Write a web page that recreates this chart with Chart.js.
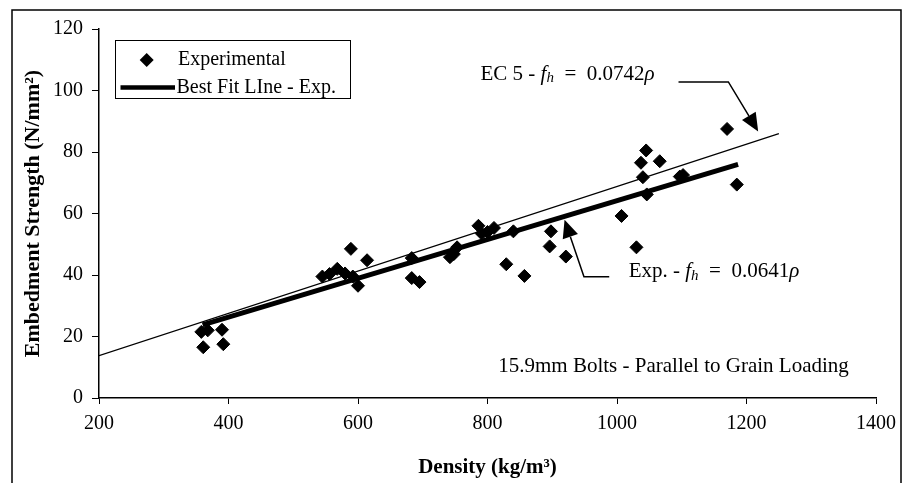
<!DOCTYPE html>
<html><head><meta charset="utf-8">
<script src="https://cdn.jsdelivr.net/npm/chart.js@4.4.0/dist/chart.umd.min.js"></script>
<style>html,body{margin:0;padding:0;background:#fff}#wrap{width:904px;height:483px;position:relative}</style>
</head><body><div id="wrap"><canvas id="c" width="904" height="483"></canvas></div>
<script>
// ---- data ----
const density  = [358, 361, 368, 390, 392, 545, 556, 568, 580, 589, 592, 600, 614, 683, 683, 695, 742, 748, 753, 786, 791, 800, 810, 829, 840, 857, 896, 898, 921, 1007, 1030, 1037, 1040, 1045, 1046, 1066, 1097, 1102, 1170, 1185];
const strength = [21.5, 16.5, 22, 22.2, 17.5, 39.5, 40.3, 42, 40.5, 48.5, 39.5, 36.5, 44.8, 45.5, 39, 37.7, 45.8, 46.8, 49, 56, 53.5, 54, 55.3, 43.5, 54.2, 39.7, 49.3, 54.2, 46, 59.2, 49, 76.5, 71.8, 80.5, 66.2, 77, 72, 72.5, 87.5, 69.4];
const fitDensity  = [360, 1187];
const fitStrength = [23.8, 76];
const ec5Density  = [200, 1250];
const ec5Strength = [13.8, 86];
const xTickValues = [200, 400, 600, 800, 1000, 1200, 1400];
const yTickValues = [0, 20, 40, 60, 80, 100, 120];
const seriesNames = ['Experimental', 'Best Fit LIne - Exp.', 'EC 5'];
const xTitle = 'Density (kg/m³)';
const yTitle = 'Embedment Strength (N/mm²)';
// annotation anchors in data units
const ecArrow  = {x: [1095, 1172, 1218], y: [102.8, 102.8, 86.7]};
const expArrow = {x: [988, 949, 919], y: [39.4, 39.4, 58]};
const ecLabel  = {x: 1058, y: 105.2};
const expLabel = {x: 1018, y: 41.1};
const boltLabel = {x: 1358, y: 10.1, text: '15.9mm Bolts - Parallel to Grain Loading'};

const SERIF = '"Liberation Serif", "DejaVu Serif", serif';

function pts(xs, ys) { return xs.map((x, i) => ({x: x, y: ys[i]})); }

function richText(ctx, x, y, segs, align) {
  const base = 21;
  let total = 0;
  const widths = segs.map(s => {
    ctx.font = (s.it ? 'italic ' : '') + (s.sub ? 15 : base) + 'px ' + SERIF;
    const w = ctx.measureText(s.t).width;
    total += w;
    return w;
  });
  let cx = align === 'right' ? x - total : x;
  ctx.textBaseline = 'middle';
  ctx.textAlign = 'left';
  segs.forEach((s, i) => {
    ctx.font = (s.it ? 'italic ' : '') + (s.sub ? 15 : base) + 'px ' + SERIF;
    ctx.fillText(s.t, cx, y + (s.sub ? 4 : 0));
    cx += widths[i];
  });
}

function drawArrow(ctx, px, py) {
  const n = px.length;
  const tx = px[n - 1], ty = py[n - 1];
  const dx = tx - px[n - 2], dy = ty - py[n - 2];
  const len = Math.hypot(dx, dy);
  const ux = dx / len, uy = dy / len;
  const hl = 18, hw = 8;
  const bx = tx - ux * hl, by = ty - uy * hl;
  ctx.beginPath();
  ctx.moveTo(px[0], py[0]);
  for (let i = 1; i < n - 1; i++) ctx.lineTo(px[i], py[i]);
  ctx.lineTo(bx, by);
  ctx.lineWidth = 1.5;
  ctx.strokeStyle = '#000';
  ctx.stroke();
  ctx.beginPath();
  ctx.moveTo(tx, ty);
  ctx.lineTo(bx - uy * hw, by + ux * hw);
  ctx.lineTo(bx + uy * hw, by - ux * hw);
  ctx.closePath();
  ctx.fillStyle = '#000';
  ctx.fill();
}

const decor = {
  id: 'decor',
  afterDraw(chart) {
    const ctx = chart.ctx;
    const xs = chart.scales.x, ys = chart.scales.y;
    ctx.save();
    // outer frame
    ctx.strokeStyle = '#000';
    ctx.lineWidth = 1.5;
    ctx.strokeRect(12, 10, 889, 520);
    // legend
    ctx.lineWidth = 1;
    ctx.strokeRect(115.5, 40.5, 235, 58);
    ctx.fillStyle = '#000';
    ctx.beginPath();
    ctx.moveTo(146.7 - 7, 60); ctx.lineTo(146.7, 53); ctx.lineTo(146.7 + 7, 60); ctx.lineTo(146.7, 67);
    ctx.closePath(); ctx.fill();
    ctx.beginPath(); ctx.moveTo(120.5, 87.5); ctx.lineTo(175, 87.5); ctx.lineWidth = 4.5; ctx.stroke();
    ctx.font = '20px ' + SERIF; ctx.textBaseline = 'middle'; ctx.textAlign = 'left';
    ctx.fillText(seriesNames[0], 178, 60);
    ctx.fillText(seriesNames[1], 176.5, 87.5);
    // annotations
    richText(ctx, xs.getPixelForValue(ecLabel.x), ys.getPixelForValue(ecLabel.y),
      [{t: 'EC 5 - '}, {t: 'f', it: 1}, {t: 'h', it: 1, sub: 1}, {t: '  =  0.0742'}, {t: 'ρ', it: 1}], 'right');
    richText(ctx, xs.getPixelForValue(expLabel.x), ys.getPixelForValue(expLabel.y),
      [{t: 'Exp. - '}, {t: 'f', it: 1}, {t: 'h', it: 1, sub: 1}, {t: '  =  0.0641'}, {t: 'ρ', it: 1}], 'left');
    ctx.font = '21px ' + SERIF; ctx.textAlign = 'right'; ctx.textBaseline = 'middle'; ctx.fillStyle = '#000';
    ctx.fillText(boltLabel.text, xs.getPixelForValue(boltLabel.x), ys.getPixelForValue(boltLabel.y));
    drawArrow(ctx, ecArrow.x.map(v => xs.getPixelForValue(v)), ecArrow.y.map(v => ys.getPixelForValue(v)));
    drawArrow(ctx, expArrow.x.map(v => xs.getPixelForValue(v)), expArrow.y.map(v => ys.getPixelForValue(v)));
    ctx.restore();
  }
};

new Chart(document.getElementById('c'), {
  type: 'scatter',
  data: {
    datasets: [
      {label: seriesNames[0], data: pts(density, strength), pointStyle: 'rectRot', pointRadius: 6.5,
       pointHoverRadius: 6.5, backgroundColor: '#000', borderColor: '#000', borderWidth: 1, order: 2},
      {label: seriesNames[1], type: 'line', data: pts(fitDensity, fitStrength), showLine: true, borderColor: '#000',
       borderWidth: 5, pointRadius: 0, fill: false, order: 1},
      {label: seriesNames[2], type: 'line', data: pts(ec5Density, ec5Strength), showLine: true, borderColor: '#000',
       borderWidth: 1.3, pointRadius: 0, fill: false, order: 1}
    ]
  },
  options: {
    responsive: false,
    animation: false,
    devicePixelRatio: 1,
    layout: {padding: {left: 0, right: 24, top: 29, bottom: 0}, autoPadding: false},
    plugins: {legend: {display: false}, tooltip: {enabled: false}},
    scales: {
      x: {
        type: 'linear', min: 200, max: 1400,
        afterBuildTicks: s => { s.ticks = xTickValues.map(v => ({value: v})); },
        afterFit: s => { s.height = 85; },
        grid: {drawOnChartArea: false, drawTicks: true, tickLength: 6, color: '#000', lineWidth: 1},
        border: {display: true, color: '#000', width: 1.5},
        ticks: {color: '#000', font: {family: SERIF, size: 20}, padding: 8, maxRotation: 0,
                callback: v => String(v)},
        title: {display: true, text: xTitle, color: '#000', font: {family: SERIF, size: 21, weight: 'bold'},
                padding: {top: 0, bottom: 3}}
      },
      y: {
        type: 'linear', min: 0, max: 120,
        afterBuildTicks: s => { s.ticks = yTickValues.map(v => ({value: v})); },
        afterFit: s => { s.width = 99; },
        grid: {drawOnChartArea: false, drawTicks: true, tickLength: 7, color: '#000', lineWidth: 1},
        border: {display: true, color: '#000', width: 1.5},
        ticks: {color: '#000', font: {family: SERIF, size: 20}, padding: 9, callback: v => String(v)},
        title: {display: true, text: yTitle, color: '#000', font: {family: SERIF, size: 22, weight: 'bold'},
                padding: {top: 20, bottom: 0}}
      }
    }
  },
  plugins: [decor]
});
</script>
</body></html>
